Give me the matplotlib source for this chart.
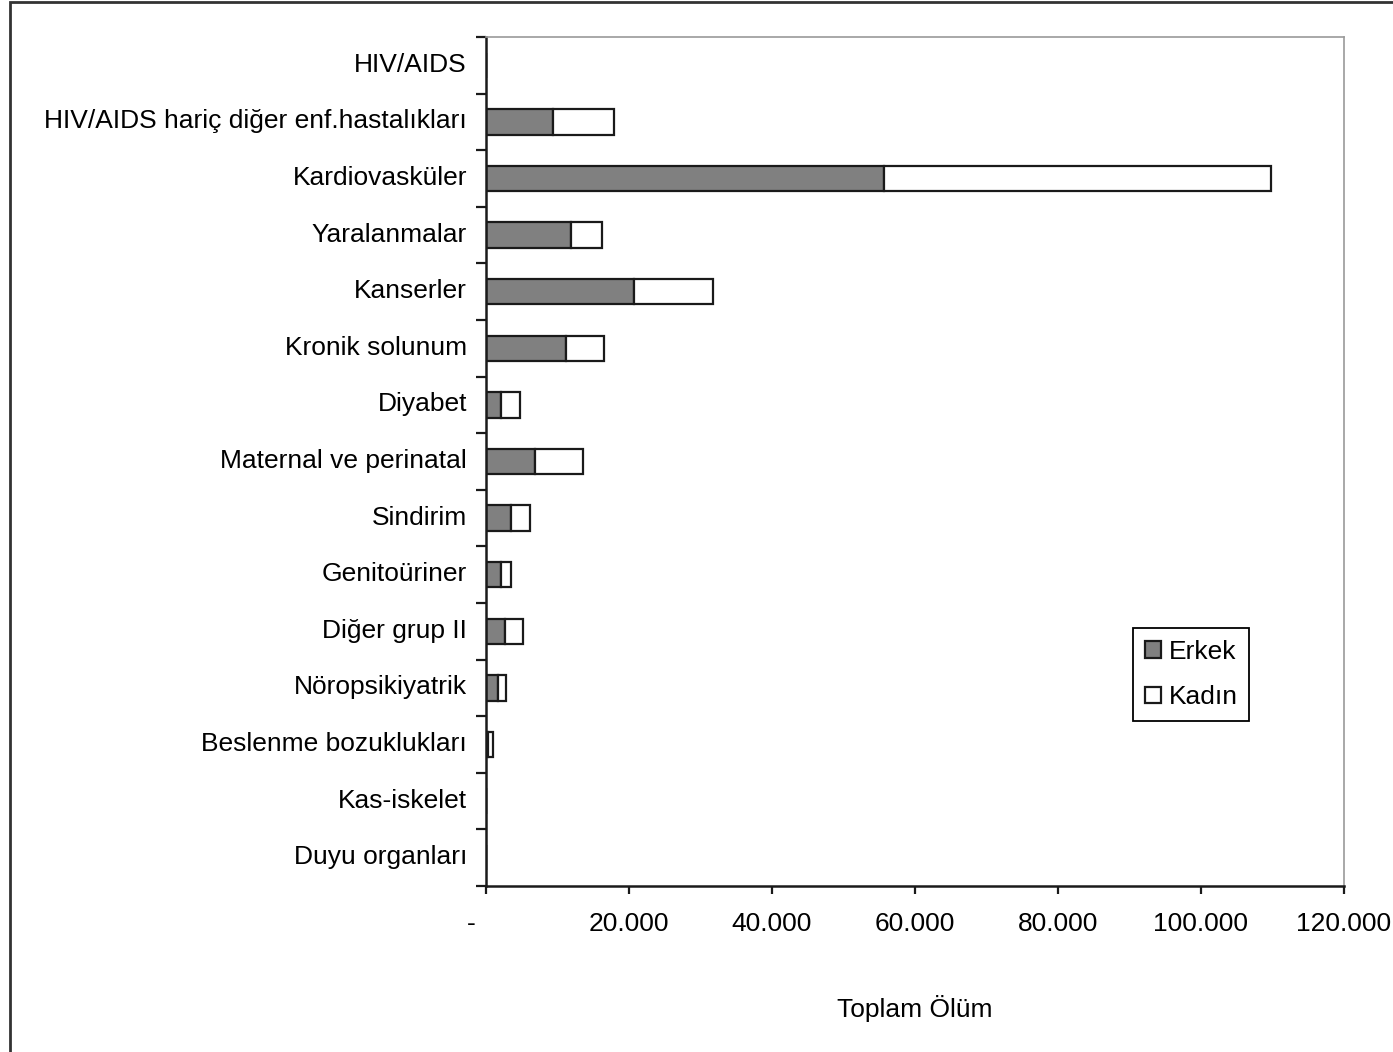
import matplotlib
matplotlib.use("Agg")
import matplotlib.pyplot as plt
from matplotlib.patches import Rectangle
from matplotlib.ticker import FuncFormatter, FixedLocator
from matplotlib.transforms import ScaledTranslation

plt.rcParams['font.family'] = ['Liberation Sans', 'DejaVu Sans']

# Hastalık grupları ve cinsiyete göre toplam ölüm sayıları
kategoriler = ['HIV/AIDS', 'HIV/AIDS hariç diğer enf.hastalıkları', 'Kardiovasküler',
               'Yaralanmalar', 'Kanserler', 'Kronik solunum', 'Diyabet',
               'Maternal ve perinatal', 'Sindirim', 'Genitoüriner', 'Diğer grup II',
               'Nöropsikiyatrik', 'Beslenme bozuklukları', 'Kas-iskelet', 'Duyu organları']
erkek = [20, 9330, 55730, 11890, 20700, 11190, 2060, 6900, 3450, 2060, 2700, 1720, 240, 20, 10]
kadin = [10, 8620, 54050, 4340, 11060, 5320, 2700, 6670, 2750, 1440, 2520, 1030, 780, 20, 10]
x_ticks = [0, 20000, 40000, 60000, 80000, 100000, 120000]

FS = 19

fig = plt.figure(figsize=(13.93, 10.52), dpi=100)
ax = fig.add_axes([0.3489, 0.1578, 0.6159, 0.8070])

y = list(range(len(kategoriler)))
ax.barh(y, erkek, height=0.45, color='#808080', edgecolor='#1a1a1a', linewidth=1.6, label='Erkek')
ax.barh(y, kadin, left=erkek, height=0.45, color='white', edgecolor='#1a1a1a', linewidth=1.6, label='Kadın')

ax.set_xlim(0, 120000)
ax.set_ylim(len(kategoriler) - 0.5, -0.5)

def binlik(v, pos):
    if v == 0:
        return '-'
    return f'{int(v):,}'.replace(',', '.')

ax.xaxis.set_major_locator(FixedLocator(x_ticks))
ax.xaxis.set_major_formatter(FuncFormatter(binlik))
ax.tick_params(axis='x', direction='out', length=6, width=1.6, color='#1a1a1a',
               labelsize=FS, pad=13)

ax.set_yticks(y)
ax.set_yticklabels(kategoriler)
ax.set_yticks([i - 0.5 for i in range(len(kategoriler) + 1)], minor=True)
ax.tick_params(axis='y', which='major', length=0, labelsize=FS, pad=13.7)
ax.tick_params(axis='y', which='minor', direction='out', length=7, width=1.6, color='#1a1a1a')

# etiketleri biraz yukarı kaydır
yukari = ScaledTranslation(0, 0.03, fig.dpi_scale_trans)
for lab in ax.get_yticklabels():
    lab.set_transform(lab.get_transform() + yukari)

# sıfırdaki "-" işareti biraz solda duruyor
fig.canvas.draw()
sifir = ax.xaxis.get_major_ticks()[0].label1
sifir.set_transform(sifir.get_transform() + ScaledTranslation(-0.15, 0, fig.dpi_scale_trans))

for s in ['left', 'bottom']:
    ax.spines[s].set_linewidth(1.8)
    ax.spines[s].set_color('#1a1a1a')
for s in ['top', 'right']:
    ax.spines[s].set_linewidth(1.2)
    ax.spines[s].set_color('#9a9a9a')

ax.set_xlabel('Toplam Ölüm', fontsize=FS, labelpad=42)

leg = ax.legend(loc='upper left', bbox_to_anchor=(0.754, 0.304), fontsize=FS,
                fancybox=False, framealpha=1, edgecolor='black',
                handlelength=0.6, handleheight=0.6, handletextpad=0.3,
                labelspacing=0.82, borderpad=0.45, borderaxespad=0)
leg.get_frame().set_linewidth(1.3)

# çerçeve
fig.patches.append(Rectangle((10 / 1393, -0.05), 1.0, 1.048, transform=fig.transFigure,
                             fill=False, edgecolor='#333333', linewidth=2, clip_on=False))

fig.savefig('out.png', dpi=100)
